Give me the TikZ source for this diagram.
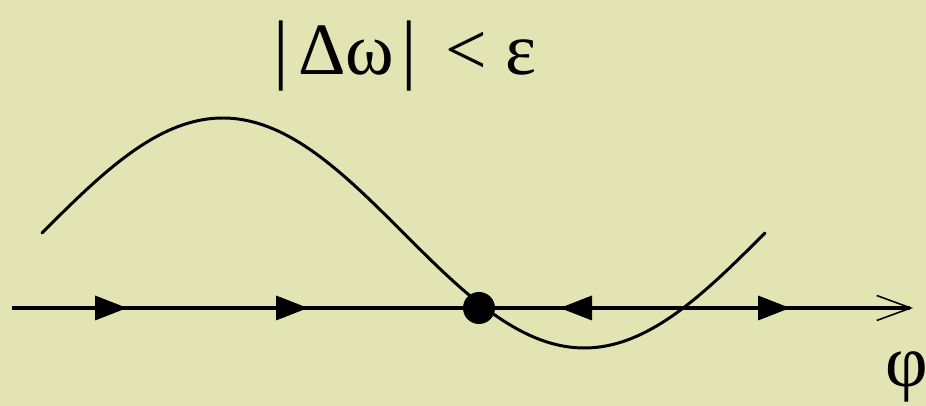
\documentclass[tikz,border=0pt]{standalone}
\usepackage{fontspec}
\setmainfont{Liberation Serif}
\usetikzlibrary{positioning,arrows.meta}
\definecolor{paper}{RGB}{227,228,179}
\tikzset{
  axisline/.style={line width=2pt, -{Straight Barb[length=0.68cm, width=0.5cm, line width=0.9pt]}},
  curveline/.style={line width=1.7pt, line cap=round},
  flowtip/.style={fill=black},
  fixpoint/.style={circle, fill=black, minimum size=0.64cm, inner sep=0pt},
  biglabel/.style={font=\fontsize{42}{50}\selectfont, inner sep=0pt}
}
\newcommand{\tallbar}{{\fontsize{44}{50}\selectfont|}}

\begin{document}
\begin{tikzpicture}
  \fill[paper] (0,0) rectangle (18.52,8.12);
  \useasboundingbox (0,0) rectangle (18.52,8.12);
  \coordinate (start) at (0.24,1.96);
  \coordinate (end) at (18.26,1.96);
  \draw[axisline] (start) -- (end);
  \draw[curveline, domain=0:14.46, samples=120, smooth] plot ({0.84+\x},{3.46+2.3*sin(\x*360/14.46)});
  \foreach \t in {2.54, 6.16, 15.8}
    \fill[flowtip] (\t,1.96) -- ++(-0.64,0.25) -- ++(0,-0.5) -- cycle;
  \fill[flowtip] (11.2,1.96) -- ++(0.64,0.25) -- ++(0,-0.5) -- cycle;
  \node[fixpoint] (eq) at (9.58,1.96) {};
  \node[biglabel, anchor=base] (cond) at (8.1,6.62) {\tallbar\hspace{0.12em}Δω\hspace{0.1em}\tallbar\hspace{0.38em}<\hspace{0.25em}ε};
  \node[biglabel, anchor=base west] (phi) at (17.7,0.38) {φ};
\end{tikzpicture}
\end{document}
